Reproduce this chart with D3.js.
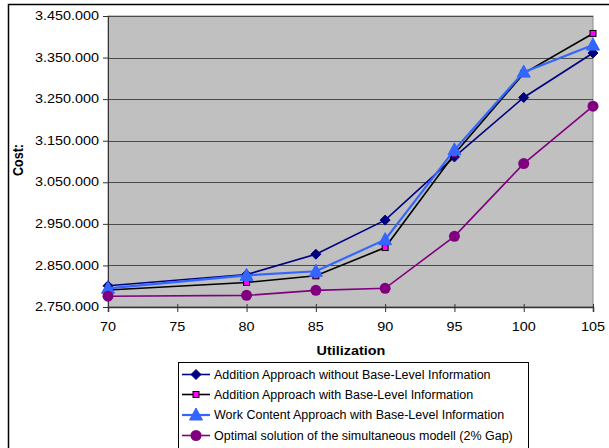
<!DOCTYPE html>
<html><head><meta charset="utf-8">
<script src="https://cdn.jsdelivr.net/npm/d3@7"></script>
<style>body{margin:0;background:#fff}svg{display:block}text{font-family:"Liberation Sans",Arial,sans-serif}</style>
</head><body>
<svg id="c" width="609" height="448"></svg>
<script>
const utilization = [70, 80, 85, 90, 95, 100, 105];
const xTicks = [70, 75, 80, 85, 90, 95, 100, 105];
const yTicks = [2750000, 2850000, 2950000, 3050000, 3150000, 3250000, 3350000, 3450000];
const seriesNames = [
  "Addition Approach without Base-Level Information",
  "Addition Approach with Base-Level Information",
  "Work Content Approach with Base-Level Information",
  "Optimal solution of the simultaneous modell (2% Gap)"
];
const additionWithout = [2801000, 2828000, 2877000, 2959000, 3111000, 3254000, 3361000];
const additionWith    = [2791000, 2809000, 2825000, 2893000, 3118000, 3312000, 3408000];
const workContent     = [2795000, 2826000, 2836000, 2912000, 3128000, 3315000, 3380000];
const optimal         = [2776000, 2778000, 2790000, 2795000, 2920000, 3095000, 3233000];

const svg = d3.select("#c");
const L = 108, R = 593, T = 16, B = 307;
const x = d3.scaleLinear().domain([70, 105]).range([L, R]);
const y = d3.scaleLinear().domain([2750000, 3450000]).range([B, T]);
const fmt = v => d3.format(",")(v).replace(/,/g, ".");

function txt(g, xx, yy, s, anchor, opts) {
  opts = opts || {};
  const sx = opts.sx || 1.2;
  return g.append("text")
    .attr("transform", `translate(${xx},${yy}) scale(${sx},1)`)
    .attr("text-anchor", anchor)
    .attr("dominant-baseline", "central")
    .attr("font-size", opts.size || 12)
    .attr("font-weight", opts.bold ? "bold" : null)
    .attr("fill", "#000")
    .text(s);
}

// outer border
svg.append("path").attr("d", "M8.5,460 L8.5,4.5 L620,4.5").attr("fill", "none").attr("stroke", "#000").attr("stroke-width", 1.5);

// plot area
svg.append("rect").attr("x", L).attr("y", T).attr("width", R - L).attr("height", B - T)
  .attr("fill", "#c0c0c0").attr("stroke", "#8c8c8c").attr("stroke-width", 1);

// gridlines
svg.append("g").selectAll("line").data(yTicks.slice(1)).join("line")
  .attr("x1", L).attr("x2", R).attr("y1", d => Math.round(y(d)) + 0.5).attr("y2", d => Math.round(y(d)) + 0.5)
  .attr("stroke", "#4a4a4a").attr("stroke-width", 1);

// y axis
const ya = svg.append("g").attr("transform", `translate(${L},0)`)
  .call(d3.axisLeft(y).tickValues(yTicks).tickSize(5).tickFormat(""));
ya.select(".domain").attr("stroke", "#333");
ya.selectAll(".tick line").attr("stroke", "#333");
yTicks.forEach(v => txt(svg, 99, y(v), fmt(v), "end", {size: 12}));

// x axis
const xa = svg.append("g").attr("transform", `translate(0,${B})`)
  .call(d3.axisBottom(x).tickValues(xTicks).tickSize(5).tickFormat(""));
xa.select(".domain").attr("stroke", "#333").attr("stroke-width", 1.5);
xa.selectAll(".tick line").attr("stroke", "#333").attr("y1", -3);
xTicks.forEach(v => txt(svg, x(v), 327, String(v), "middle", {size: 12}));

// axis titles
svg.append("text").attr("transform", "translate(18,160) rotate(-90) scale(1,1.2)")
  .attr("text-anchor", "middle").attr("dominant-baseline", "central")
  .attr("font-size", 12.5).attr("font-weight", "bold").text("Cost:");
txt(svg, 351, 351, "Utilization", "middle", {size: 12, bold: true});

const series = [
  {vals: additionWithout, color: "#000080", w: 1.6, marker: "diamond", fill: "#000080", mstroke: "#000080"},
  {vals: additionWith, color: "#000000", w: 1.6, marker: "square", fill: "#ff00ff", mstroke: "#000000"},
  {vals: workContent, color: "#3366ff", w: 2.2, marker: "triangle", fill: "#3366ff", mstroke: "#3366ff"},
  {vals: optimal, color: "#800080", w: 1.6, marker: "circle", fill: "#800080", mstroke: "#800080"}
];

function drawMarker(g, kind, cx, cy, s) {
  if (kind === "diamond") {
    g.append("path").attr("d", `M${cx},${cy-5} L${cx+5},${cy} L${cx},${cy+5} L${cx-5},${cy} Z`)
      .attr("fill", s.fill).attr("stroke", s.mstroke);
  } else if (kind === "square") {
    g.append("rect").attr("x", cx - 3).attr("y", cy - 3).attr("width", 6).attr("height", 6)
      .attr("fill", s.fill).attr("stroke", s.mstroke).attr("stroke-width", 1);
  } else if (kind === "triangle") {
    g.append("path").attr("d", `M${cx},${cy-7} L${cx+6.5},${cy+5} L${cx-6.5},${cy+5} Z`)
      .attr("fill", s.fill).attr("stroke", s.mstroke);
  } else {
    g.append("circle").attr("cx", cx).attr("cy", cy).attr("r", 5.5).attr("fill", s.fill);
  }
}

const line = d3.line().x((d, i) => x(utilization[i])).y(d => y(d));
series.forEach(s => {
  const g = svg.append("g");
  g.append("path").attr("d", line(s.vals)).attr("fill", "none").attr("stroke", s.color).attr("stroke-width", s.w);
  s.vals.forEach((v, i) => drawMarker(g, s.marker, x(utilization[i]), y(v), s));
});

// legend
const lg = svg.append("g");
lg.append("rect").attr("x", 178.5).attr("y", 362.5).attr("width", 350).attr("height", 100)
  .attr("fill", "#fff").attr("stroke", "#000").attr("stroke-width", 1);
const rowsY = [374.5, 394.5, 415, 435.5];
series.forEach((s, i) => {
  const gy = rowsY[i];
  lg.append("line").attr("x1", 182).attr("x2", 210).attr("y1", gy).attr("y2", gy)
    .attr("stroke", s.color).attr("stroke-width", s.w);
  drawMarker(lg, s.marker, 196, gy, s);
  txt(lg, 214, gy, seriesNames[i], "start", {size: 12.5, sx: 1.0});
});
</script>
</body></html>
